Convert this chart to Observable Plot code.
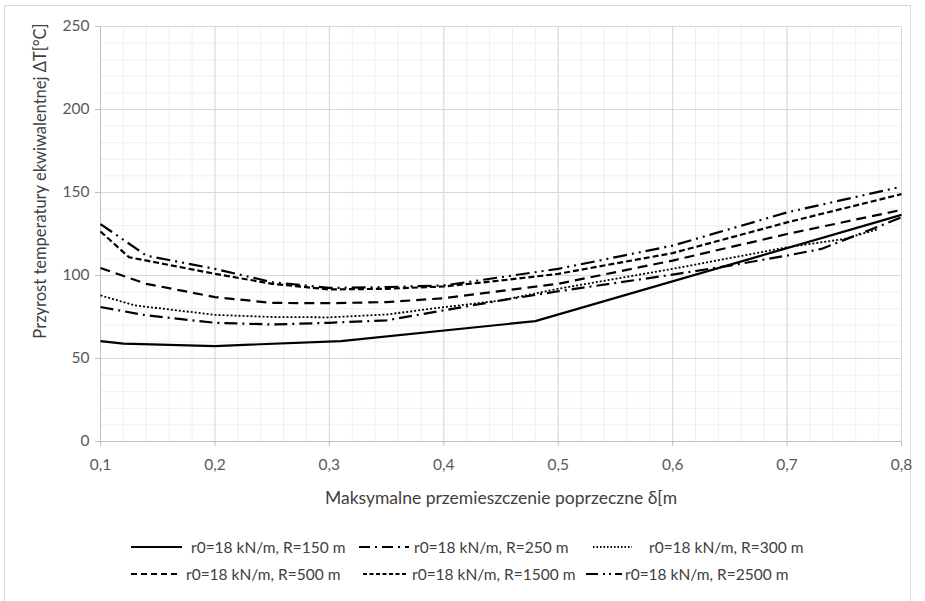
<!DOCTYPE html>
<html>
<head>
<meta charset="utf-8">
<script src="https://cdn.jsdelivr.net/npm/d3@7"></script>
<script src="https://cdn.jsdelivr.net/npm/@observablehq/plot@0.6"></script>
<style>
  html, body { margin: 0; padding: 0; background: #fff; }
  #wrap { position: relative; width: 925px; height: 601px; font-family: Lato, "Open Sans", sans-serif; }
  #frame { position: absolute; left: 4px; top: 5px; width: 907px; height: 600px; border: 1px solid #d9d9d9; box-sizing: border-box; pointer-events: none; }
  #chart { position: absolute; left: 0; top: 0; }
  .leg { position: absolute; display: flex; align-items: center; font-size: 15.5px; color: #404040; white-space: nowrap; }
</style>
</head>
<body>
<div id="wrap">
  <div id="frame"></div>
  <div id="chart"></div>
  <div id="legend"></div>
</div>
<script>
// ---- data ----
const xTicks = [0.1, 0.2, 0.3, 0.4, 0.5, 0.6, 0.7, 0.8];
const yTicks = [0, 50, 100, 150, 200, 250];
const xLabel = "Maksymalne przemieszczenie poprzeczne δ[m";
const yLabel = "Przyrost temperatury ekwiwalentnej ΔT[°C]";

const names = [
  "r0=18 kN/m, R=150 m",
  "r0=18 kN/m, R=250 m",
  "r0=18 kN/m, R=300 m",
  "r0=18 kN/m, R=500 m",
  "r0=18 kN/m, R=1500 m",
  "r0=18 kN/m, R=2500 m"
];

const x150  = [0.1, 0.12, 0.2, 0.31, 0.48, 0.8];
const y150  = [60.5, 59, 57.5, 60.5, 72.5, 136.5];

const x250  = [0.1, 0.14, 0.2, 0.25, 0.3, 0.35, 0.4, 0.45, 0.5, 0.6, 0.65, 0.7, 0.73, 0.8];
const y250  = [81, 76, 71.5, 70.5, 71.5, 73, 79, 85, 90.5, 100.5, 106, 112, 116, 135];

const x300  = [0.1, 0.13, 0.2, 0.25, 0.3, 0.35, 0.4, 0.45, 0.5, 0.6, 0.65, 0.7, 0.75, 0.78];
const y300  = [88, 82, 76.3, 75, 74.8, 76.5, 80.9, 85, 92, 104, 110.5, 117, 122, 128];

const x500  = [0.1, 0.14, 0.2, 0.25, 0.3, 0.35, 0.4, 0.5, 0.6, 0.7, 0.8];
const y500  = [104.5, 95, 87, 83.5, 83.3, 84, 86.3, 95, 109, 125, 139.5];

const x1500 = [0.1, 0.125, 0.2, 0.25, 0.3, 0.35, 0.4, 0.45, 0.5, 0.6, 0.7, 0.8];
const y1500 = [126.5, 111, 101, 95, 91.6, 92, 93.4, 97, 101, 113.5, 132, 149];

const x2500 = [0.1, 0.14, 0.2, 0.25, 0.3, 0.35, 0.4, 0.45, 0.5, 0.6, 0.7, 0.8];
const y2500 = [131, 112, 104, 96, 92.5, 93, 94, 99, 104, 118, 138, 153.5];

// ---- styles (not data) ----
const dashes = [null, "13,5,2,5", "2,2", "10,6", "6,3", "14,5,2,5,2,5"];
const widths = [2.2, 2.2, 1.8, 2.2, 2.2, 2.2];
const legendDashes = [null, "11,5,2,5", "1.5,2", "6,4", "4,2.5", "12,5,2,4,2,4"];

const xs = [x150, x250, x300, x500, x1500, x2500];
const ys = [y150, y250, y300, y500, y1500, y2500];
const table = xs.map((arr, i) => arr.map((x, j) => ({series: names[i], x, y: ys[i][j]})));

const fmt = d => d.toFixed(1).replace(".", ",");
const minorX = d3.range(0.1, 0.8001, 0.02);
const minorY = d3.range(0, 250.001, 10);

const lineMarks = table.map((rows, i) =>
  Plot.line(rows, {
    x: "x", y: "y", stroke: "#000", strokeWidth: widths[i],
    strokeDasharray: dashes[i] || undefined, strokeLinecap: "butt", strokeLinejoin: "round"
  })
);

const chart = Plot.plot({
  width: 925,
  height: 520,
  marginLeft: 100,
  marginRight: 24,
  marginTop: 26,
  marginBottom: 79,
  style: {fontFamily: "Lato, 'Open Sans', sans-serif", fontSize: "15.5px", background: "transparent"},
  x: {domain: [0.1, 0.8]},
  y: {domain: [0, 250]},
  marks: [
    Plot.gridX(minorX, {stroke: "#efefef", strokeOpacity: 1}),
    Plot.gridY(minorY, {stroke: "#efefef", strokeOpacity: 1}),
    Plot.gridX(xTicks, {stroke: "#d9d9d9", strokeOpacity: 1}),
    Plot.gridY(yTicks, {stroke: "#d9d9d9", strokeOpacity: 1}),
    Plot.ruleY([0], {stroke: "#bfbfbf"}),
    Plot.ruleX([0.1], {stroke: "#bfbfbf"}),
    Plot.axisX(xTicks, {
      tickFormat: fmt, tickSize: 5, stroke: "#bfbfbf", fill: "#595959", tickPadding: 12,
      label: xLabel, labelAnchor: "center", labelArrow: "none", labelOffset: 62
    }),
    Plot.axisY(yTicks, {tickSize: 5, stroke: "#bfbfbf", fill: "#595959", tickPadding: 6, label: null}),
    Plot.text([yLabel], {
      frameAnchor: "left", rotate: -90, dx: -60, dy: -53, fill: "#404040", fontSize: 16.5, textAnchor: "middle"
    }),
    ...lineMarks
  ]
});
document.getElementById("chart").appendChild(chart);
chart.querySelectorAll("[aria-label='x-axis label'] text").forEach(t => { t.setAttribute("fill", "#404040"); t.style.fontSize = "17.5px"; });

// ---- legend (HTML below the plot area) ----
const legPos = [
  {left: 131, top: 547, w: 51, gap: 9}, {left: 359, top: 547, w: 50, gap: 5}, {left: 593, top: 547, w: 39, gap: 17},
  {left: 131, top: 574, w: 47, gap: 8}, {left: 363, top: 574, w: 43, gap: 6}, {left: 586, top: 574, w: 36, gap: 3}
];
const legend = document.getElementById("legend");
names.forEach((n, i) => {
  const p = legPos[i];
  const div = document.createElement("div");
  div.className = "leg";
  div.style.left = p.left + "px";
  div.style.top = (p.top - 10) + "px";
  div.style.height = "20px";
  div.innerHTML = `<svg width="${p.w}" height="6" style="margin-right:${p.gap}px"><line x1="0" x2="${p.w}" y1="3" y2="3" stroke="#000" stroke-width="2" ${legendDashes[i] ? `stroke-dasharray="${legendDashes[i]}"` : ""}/></svg><span>${n}</span>`;
  legend.appendChild(div);
});
</script>
</body>
</html>
